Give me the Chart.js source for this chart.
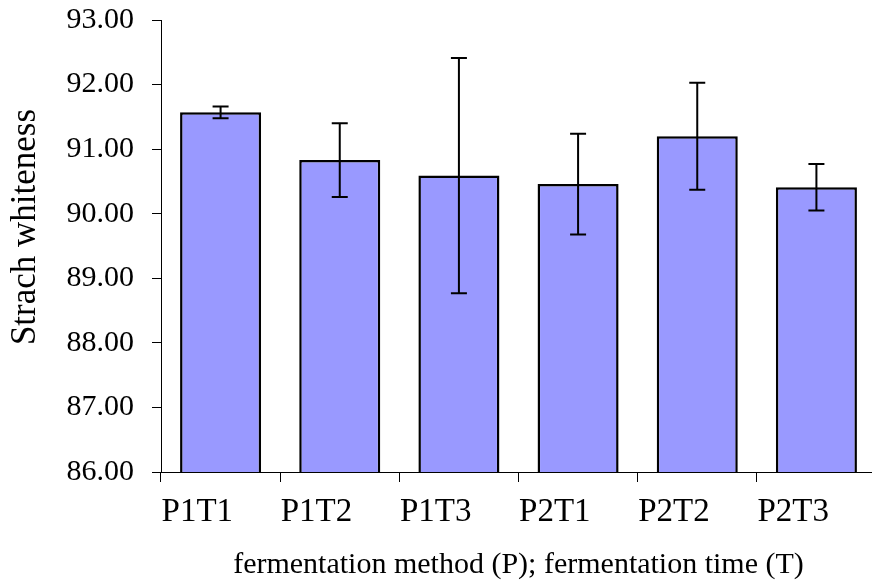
<!DOCTYPE html>
<html>
<head>
<meta charset="utf-8">
<script src="https://cdn.jsdelivr.net/npm/chart.js@4/dist/chart.umd.min.js"></script>
<style>
html,body{margin:0;padding:0;background:#fff;overflow:hidden;width:872px;height:583px;}
#wrap{width:876px;height:583px;}
</style>
</head>
<body>
<div id="wrap"><canvas id="c" width="876" height="583"></canvas></div>
<script>
const categories = ['P1T1', 'P1T2', 'P1T3', 'P2T1', 'P2T2', 'P2T3'];
const whiteness = [91.57, 90.83, 90.59, 90.46, 91.20, 90.41];
const whitenessError = [0.09, 0.57, 1.82, 0.78, 0.83, 0.36];
const yMin = 86;
const yMax = 93;
const yStep = 1;
const yTitle = 'Strach whiteness';
const xTitle = 'fermentation method (P); fermentation time (T)';

const errorBars = {
  id: 'errorBars',
  afterDatasetsDraw(chart) {
    const ctx = chart.ctx;
    const meta = chart.getDatasetMeta(0);
    const y = chart.scales.y;
    ctx.save();
    ctx.strokeStyle = '#000';
    ctx.lineWidth = 2;
    meta.data.forEach((bar, i) => {
      const x = bar.x;
      const top = y.getPixelForValue(whiteness[i] + whitenessError[i]);
      const bot = y.getPixelForValue(whiteness[i] - whitenessError[i]);
      const cap = 8;
      ctx.beginPath();
      ctx.moveTo(x, top); ctx.lineTo(x, bot);
      ctx.moveTo(x - cap, top); ctx.lineTo(x + cap, top);
      ctx.moveTo(x - cap, bot); ctx.lineTo(x + cap, bot);
      ctx.stroke();
    });
    ctx.restore();
  }
};

const yAxisTitle = {
  id: 'yAxisTitle',
  afterDraw(chart) {
    const ctx = chart.ctx;
    ctx.save();
    ctx.translate(26, 227);
    ctx.rotate(-Math.PI / 2);
    ctx.fillStyle = '#000';
    ctx.font = '35px "Liberation Serif"';
    ctx.textAlign = 'center';
    ctx.textBaseline = 'middle';
    ctx.fillText(yTitle, 0, 0);
    ctx.restore();
  }
};

new Chart(document.getElementById('c'), {
  type: 'bar',
  data: {
    labels: categories,
    datasets: [{
      data: whiteness,
      backgroundColor: '#9999FF',
      borderColor: '#000',
      borderWidth: 2.5,
      barPercentage: 0.68,
      categoryPercentage: 1.0
    }]
  },
  options: {
    responsive: false,
    animation: false,
    devicePixelRatio: 1,
    layout: { padding: { top: 20, left: 0, right: 0, bottom: 0 } },
    plugins: { legend: { display: false }, tooltip: { enabled: false } },
    scales: {
      x: {
        grid: { display: true, drawOnChartArea: false, offset: true, color: '#000', tickLength: 10, lineWidth: 1 },
        border: { display: true, color: '#000', width: 1 },
        ticks: {
          color: '#000',
          font: { family: 'Liberation Serif', size: 33 },
          align: 'start',
          labelOffset: -59,
          padding: 11,
          maxRotation: 0,
          autoSkip: false
        },
        title: {
          display: true,
          text: xTitle,
          color: '#000',
          font: { family: 'Liberation Serif', size: 30 },
          padding: { top: 4, bottom: 0 }
        },
        afterFit(scale) { scale.height = 111; scale.paddingLeft = 0; scale.paddingRight = 0; }
      },
      y: {
        min: yMin,
        max: yMax,
        grid: { display: true, drawOnChartArea: false, color: '#000', tickLength: 9, lineWidth: 1 },
        border: { display: true, color: '#000', width: 1 },
        ticks: {
          stepSize: yStep,
          color: '#000',
          font: { family: 'Liberation Serif', size: 30 },
          padding: 18,
          callback: v => Number(v).toFixed(2)
        },
        title: { display: false },
        afterFit(scale) { scale.width = 161; scale.paddingTop = 0; scale.paddingBottom = 0; }
      }
    }
  },
  plugins: [errorBars, yAxisTitle]
});
</script>
</body>
</html>
